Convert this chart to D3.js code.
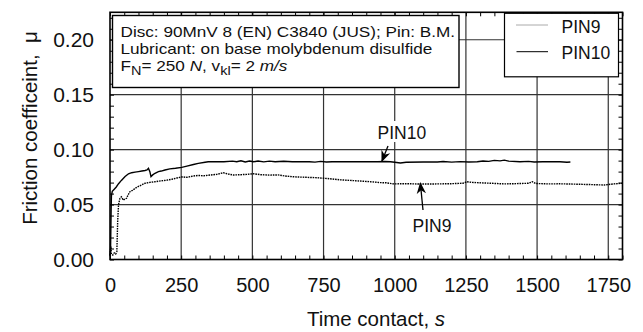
<!DOCTYPE html>
<html><head><meta charset="utf-8">
<script src="https://cdn.jsdelivr.net/npm/d3@7"></script>
<style>body{margin:0;background:#fff}svg{display:block;font-family:"Liberation Sans",Arial,sans-serif}</style>
</head><body><svg id="c" width="643" height="332"></svg>
<script>
const time9=[0,3,5,10,15,20,24,27,30,35,40,47,52,58,64,70,80,88,100,112,123,140,158,180,200,217,235,252,270,293,310,330,352,375,398,415,433,460,480,504,530,560,590,621,650,690,720,750,780,810,855,890,914,949,970,996,1040,1090,1150,1200,1240,1254,1270,1300,1330,1383,1420,1470,1483,1495,1540,1580,1617,1660,1700,1735,1770,1800];
const mu9=[0.004,0.012,0.005,0.004,0.006,0.005,0.007,0.035,0.050,0.0557,0.057,0.054,0.055,0.0557,0.059,0.0617,0.063,0.0648,0.0665,0.068,0.0694,0.0702,0.0708,0.0716,0.0722,0.073,0.0742,0.0752,0.0748,0.076,0.0765,0.0762,0.0769,0.0775,0.079,0.0778,0.0769,0.0772,0.0775,0.078,0.0772,0.0768,0.077,0.0758,0.0752,0.0748,0.0745,0.074,0.0733,0.0725,0.0718,0.0712,0.0708,0.070,0.0698,0.0688,0.069,0.0687,0.0688,0.069,0.0694,0.0708,0.0702,0.0698,0.0695,0.0688,0.069,0.0694,0.0708,0.0692,0.0688,0.0689,0.0687,0.0684,0.0681,0.0678,0.0688,0.0694];
const time10=[0,2,4,5,8,15,22,30,40,53,65,76,88,100,112,123,130,135,140,144,150,158,170,180,193,210,230,252,270,293,310,334,345,400,430,445,460,475,490,505,520,540,560,580,610,640,700,720,740,760,780,830,900,940,965,985,1000,1020,1040,1100,1150,1170,1200,1230,1260,1290,1310,1330,1350,1370,1385,1400,1440,1470,1490,1520,1580,1605,1617];
const mu10=[0.003,0.010,0.045,0.058,0.062,0.064,0.066,0.069,0.072,0.0755,0.078,0.079,0.0795,0.080,0.0805,0.081,0.0815,0.083,0.080,0.0755,0.077,0.0785,0.080,0.0805,0.0815,0.0825,0.083,0.0839,0.085,0.0865,0.0875,0.0885,0.089,0.089,0.0895,0.089,0.0898,0.0888,0.0897,0.089,0.0896,0.0889,0.0895,0.089,0.0894,0.089,0.089,0.0886,0.0893,0.0888,0.089,0.089,0.089,0.089,0.0892,0.089,0.0885,0.0878,0.0885,0.0888,0.0888,0.0892,0.0886,0.0891,0.0888,0.089,0.0896,0.0893,0.0902,0.0898,0.0904,0.0895,0.089,0.0893,0.0888,0.089,0.089,0.0885,0.0887];
const xTicks=[0,250,500,750,1000,1250,1500,1750];
const yTicks=[0,0.05,0.10,0.15,0.20];
const seriesNames=["PIN9","PIN10"];

const svg=d3.select("#c");
const L=110,R=622.5,T=12.3,B=259.5;
const x=d3.scaleLinear().domain([0,1800]).range([L,R]);
const y=d3.scaleLinear().domain([0,0.225]).range([B,T]);

// grid
const g=svg.append("g");
g.selectAll(".gx").data(xTicks.filter(d=>d>0)).join("line")
 .attr("x1",d=>x(d)).attr("x2",d=>x(d)).attr("y1",T).attr("y2",B)
 .attr("stroke","#333").attr("stroke-width",1.2);
g.selectAll(".gy").data(yTicks.filter(d=>d>0)).join("line")
 .attr("y1",d=>y(d)).attr("y2",d=>y(d)).attr("x1",L).attr("x2",R)
 .attr("stroke","#333").attr("stroke-width",1.2);

// axes with inward minor ticks
const minorX=d3.range(0,1801,50), minorY=d3.range(0,0.2251,0.01);
svg.append("g").attr("transform",`translate(0,${B})`)
 .call(d3.axisTop(x).tickValues(minorX).tickSize(4).tickFormat(""))
 .call(a=>a.select(".domain").remove());
svg.append("g").attr("transform",`translate(0,${T})`)
 .call(d3.axisBottom(x).tickValues(minorX).tickSize(4).tickFormat(""))
 .call(a=>a.select(".domain").remove());
svg.append("g").attr("transform",`translate(${L},0)`)
 .call(d3.axisRight(y).tickValues(minorY).tickSize(4).tickFormat(""))
 .call(a=>a.select(".domain").remove());
svg.append("g").attr("transform",`translate(${R},0)`)
 .call(d3.axisLeft(y).tickValues(minorY).tickSize(4).tickFormat(""))
 .call(a=>a.select(".domain").remove());
svg.selectAll(".tick line").attr("stroke","#000").attr("stroke-width",1);

// tick labels
svg.append("g").attr("transform",`translate(0,${B})`)
 .call(d3.axisBottom(x).tickValues(xTicks).tickSize(0).tickPadding(18).tickFormat(d3.format("d")))
 .call(a=>a.select(".domain").remove())
 .selectAll("text").attr("font-size",20).attr("font-family","Liberation Sans").attr("fill","#111");
svg.append("g").attr("transform",`translate(${L},0)`)
 .call(d3.axisLeft(y).tickValues(yTicks).tickSize(0).tickPadding(16).tickFormat(d3.format(".2f")))
 .call(a=>a.select(".domain").remove())
 .selectAll("text").attr("font-size",21).attr("font-family","Liberation Sans").attr("fill","#111");

// lines
const line=d3.line().x(d=>x(d[0])).y(d=>y(d[1]));
svg.append("path").datum(time9.map((t,i)=>[t,mu9[i]])).attr("d",line)
 .attr("fill","none").attr("stroke","#000").attr("stroke-width",1.4).attr("stroke-dasharray","1.6,0.9");
svg.append("path").datum(time10.map((t,i)=>[t,mu10[i]])).attr("d",line)
 .attr("fill","none").attr("stroke","#000").attr("stroke-width",1.4);

// frame
svg.append("rect").attr("x",L).attr("y",T).attr("width",R-L).attr("height",B-T)
 .attr("fill","none").attr("stroke","#000").attr("stroke-width",1.6);

// info box (text slightly widened as in the reference)
svg.append("rect").attr("x",112.5).attr("y",15.5).attr("width",346.5).attr("height",72)
 .attr("fill","#fff").attr("stroke","#000").attr("stroke-width",1.4);
const info=svg.append("g").attr("font-size",14.8).attr("fill","#111");
const sx=1.16;
info.append("text").attr("transform",`translate(120.5,36.5) scale(${sx},1)`).text("Disc: 90MnV 8 (EN) C3840 (JUS); Pin: B.M.");
info.append("text").attr("transform",`translate(120.5,54) scale(${sx},1)`).text("Lubricant: on base molybdenum disulfide");
const t3=info.append("text").attr("transform",`translate(120.5,71) scale(${sx},1)`);
t3.append("tspan").text("F");
t3.append("tspan").attr("dy",4).attr("font-size",12.5).text("N");
t3.append("tspan").attr("dy",-4).text("= 250 ");
t3.append("tspan").attr("font-style","italic").text("N");
t3.append("tspan").text(", v");
t3.append("tspan").attr("dy",4).attr("font-size",12.5).text("kl");
t3.append("tspan").attr("dy",-4).text("= 2 ");
t3.append("tspan").attr("font-style","italic").text("m/s");

// legend
svg.append("rect").attr("x",504.5).attr("y",13.3).attr("width",114).attr("height",63.5)
 .attr("fill","#fff").attr("stroke","#000").attr("stroke-width",1.2);
const lg=svg.append("g").attr("font-size",17.5).attr("fill","#111");
seriesNames.forEach((s,i)=>{
  const yy=25+i*26.7;
  lg.append("line").attr("x1",516.5).attr("x2",548).attr("y1",yy).attr("y2",yy)
    .attr("stroke",i?"#000":"#444").attr("stroke-width",i?1:0.9).attr("stroke-dasharray",i?null:"1,1");
  lg.append("text").attr("x",561.5).attr("y",yy+7.5).text(s);
});

// annotations
svg.append("defs").append("marker").attr("id","ah").attr("viewBox","0 0 10 10")
 .attr("refX",9).attr("refY",5).attr("markerWidth",9).attr("markerHeight",9).attr("orient","auto")
 .append("path").attr("d","M0,1 L10,5 L0,9 L3,5 Z").attr("fill","#000");
svg.append("rect").attr("x",377).attr("y",121).attr("width",54).attr("height",21).attr("fill","#fff");
svg.append("text").attr("x",377.5).attr("y",138.5).attr("font-size",17.5).attr("fill","#111").text("PIN10");
svg.append("line").attr("x1",388).attr("y1",146).attr("x2",x(955)).attr("y2",y(0.0895))
 .attr("stroke","#000").attr("stroke-width",1.3).attr("marker-end","url(#ah)");
svg.append("text").attr("x",412.5).attr("y",232).attr("font-size",17.5).attr("fill","#111").text("PIN9");
svg.append("line").attr("x1",423).attr("y1",210).attr("x2",x(1090)).attr("y2",y(0.0695))
 .attr("stroke","#000").attr("stroke-width",1.3).attr("marker-end","url(#ah)");

// axis titles
svg.append("text").attr("x",376).attr("y",326).attr("text-anchor","middle").attr("font-size",20.5).attr("fill","#111")
 .html('Time contact, <tspan font-style="italic">s</tspan>');
svg.append("text").attr("transform","translate(37,128) rotate(-90)").attr("text-anchor","middle")
 .attr("font-size",20.5).attr("fill","#111").attr("xml:space","preserve").text("Friction coefficeint,  μ");
</script></body></html>
